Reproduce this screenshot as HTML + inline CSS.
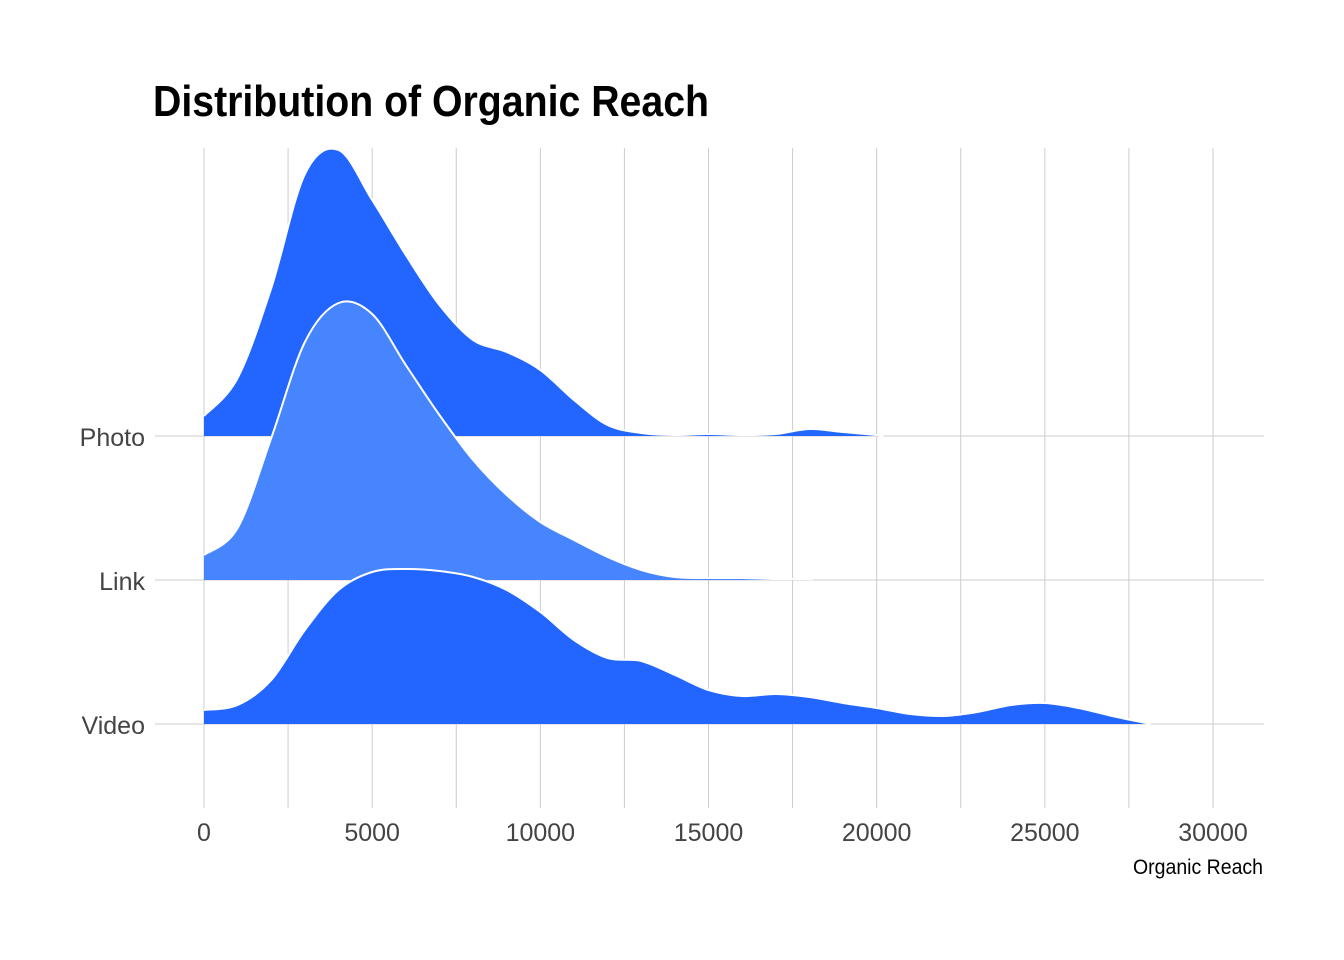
<!DOCTYPE html>
<html><head><meta charset="utf-8"><style>
html,body{margin:0;padding:0;background:#fff;}
svg{display:block;}
</style></head><body>
<svg id="chart" width="1344" height="960" viewBox="0 0 1344 960" xmlns="http://www.w3.org/2000/svg">
<text x="153" y="116" font-family="Liberation Sans, sans-serif" font-weight="bold" font-size="44" textLength="556" lengthAdjust="spacingAndGlyphs" fill="#000">Distribution of Organic Reach</text>
<g id="grid"></g>
<g id="ridges"></g>
<g id="axes"></g>
<text x="1263" y="874" text-anchor="end" font-family="Liberation Sans, sans-serif" font-size="21" textLength="130" lengthAdjust="spacingAndGlyphs" fill="#000">Organic Reach</text>
</svg>
<script>
const categories = ["Photo", "Link", "Video"];
const xTicks = [0, 5000, 10000, 15000, 20000, 25000, 30000];
const photoX = [0,1000,2000,3000,4000,5000,6000,7000,8000,9000,10000,11000,12000,13000,14000,15000,16000,17000,18000,19000,20000,20200];
const photoY = [20,58,148,262,286,236,181,131,96,84,66,36,11,3,1,2,1,2,7,4,1,0];
const linkX = [0,1000,2000,3000,4000,5000,6000,7000,8000,9000,10000,11000,12000,13000,14000,15000,16000,17000,18000,18100];
const linkY = [25,52,142,238,277,266,215,165,120,85,58,40,23,10,3,2,2,1,1,0];
const videoX = [0,1000,2000,3000,4000,5000,6000,7000,8000,9000,10000,11000,12000,13000,14000,15000,16000,17000,18000,19000,20000,21000,22000,23000,24000,25000,26000,27000,28000,28150];
const videoY = [14,19,44,94,134,152,155,153,147,134,112,84,66,63,49,34,28,30,27,21,16,10,8,12,19,21,16,8,1,0];

const NS="http://www.w3.org/2000/svg";
const xs = v => 204 + v*(1009/30000);
const baselines = [436,580,724];
const colors = ["#2266FF","#4785FF","#2266FF"];
const series = [[photoX,photoY],[linkX,linkY],[videoX,videoY]];
const grid=document.getElementById('grid'), ridges=document.getElementById('ridges'), axes=document.getElementById('axes');
function mk(tag, attrs, parent){const e=document.createElementNS(NS,tag);for(const k in attrs)e.setAttribute(k,attrs[k]);parent.appendChild(e);return e;}
for(let v=0; v<=30000; v+=2500){
  const l=mk('line',{x1:xs(v),x2:xs(v),y1:148,y2:808,stroke:'#cccccc','stroke-width':1},grid);
  
  
}
baselines.forEach((b,i)=>{
  const l=mk('line',{x1:155,x2:1264,y1:b,y2:b,stroke:'#cccccc','stroke-width':1},grid);
  
  
  const t=mk('text',{x:145,y:b+10,'text-anchor':'end','font-family':'Liberation Sans, sans-serif','font-size':25,fill:'#444'},axes);
  t.textContent=categories[i];
  
  
});
xTicks.forEach(v=>{
  const t=mk('text',{x:xs(v),y:841,'text-anchor':'middle','font-family':'Liberation Sans, sans-serif','font-size':25,fill:'#444'},axes);
  t.textContent=v;
  
  
});
function smooth(pts){
  let d='M'+pts[0][0]+','+pts[0][1];
  for(let i=0;i<pts.length-1;i++){
    const p0=pts[Math.max(0,i-1)],p1=pts[i],p2=pts[i+1],p3=pts[Math.min(pts.length-1,i+2)];
    const c1x=p1[0]+(p2[0]-p0[0])/6,c1y=p1[1]+(p2[1]-p0[1])/6;
    const c2x=p2[0]-(p3[0]-p1[0])/6,c2y=p2[1]-(p3[1]-p1[1])/6;
    d+=' C'+c1x+','+c1y+' '+c2x+','+c2y+' '+p2[0]+','+p2[1];
  }
  return d;
}
series.forEach((s,i)=>{
  const b=baselines[i];
  const pts=s[0].map((x,j)=>[xs(x), b - s[1][j]]);
  const top=smooth(pts);
  const fill=mk('path',{d:top+' L'+pts[pts.length-1][0]+','+b+' L'+pts[0][0]+','+b+' Z',fill:colors[i]},ridges);
  
  
  const line=mk('path',{d:top,fill:'none',stroke:'#fff','stroke-width':2},ridges);
  
  
});
</script>
</body></html>
